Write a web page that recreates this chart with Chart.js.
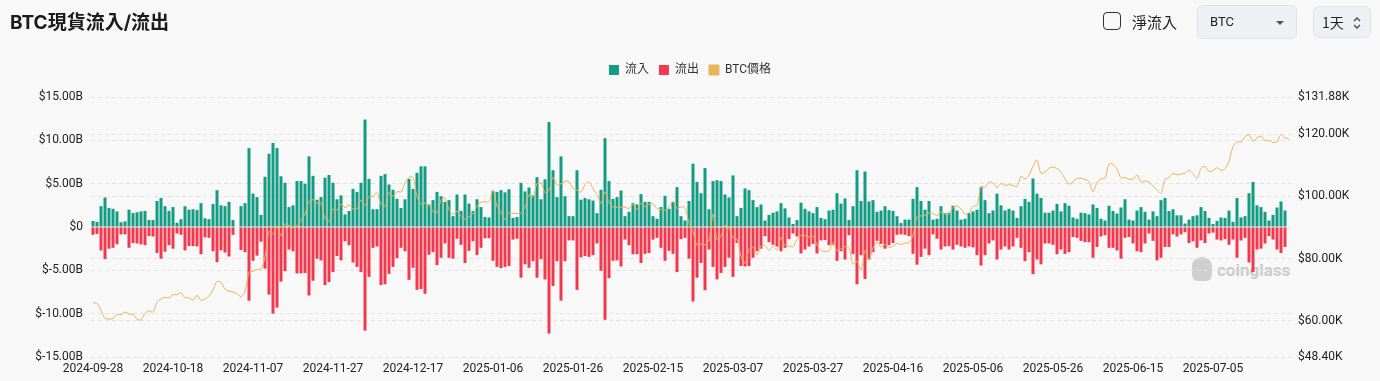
<!DOCTYPE html>
<html><head><meta charset="utf-8">
<script src="https://cdn.jsdelivr.net/npm/chart.js@4.4.0/dist/chart.umd.min.js"></script>
<style>
html,body{margin:0;padding:0;}
body{width:1380px;height:381px;background:#f8f8f8;position:relative;overflow:hidden;font-family:Roboto,"Noto Sans CJK TC",sans-serif;}
#title{position:absolute;left:10px;top:9px;font-size:19px;font-weight:700;color:#1b1b1b;font-family:Inter,"Noto Sans CJK TC",sans-serif;line-height:28px;}
#chk{position:absolute;left:1103px;top:12px;width:16px;height:16px;border:1.5px solid #333;border-radius:4px;}
#net{position:absolute;left:1132px;top:10px;font-size:15px;color:#222;line-height:24px;font-family:"Noto Sans CJK TC",sans-serif;}
#sel{position:absolute;left:1197px;top:5px;width:98px;height:32px;background:#eef0f4;border:1px solid #e0e3e9;border-radius:6px;}
#sel span{position:absolute;left:12px;top:7px;font-size:13px;color:#222;line-height:18px;}
#caret{position:absolute;left:78px;top:15px;width:0;height:0;border-left:4px solid transparent;border-right:4px solid transparent;border-top:4px solid #555;}
#per{position:absolute;left:1313px;top:6px;width:56px;height:30px;background:#eef0f4;border:1px solid #e0e3e9;border-radius:6px;}
#per span{position:absolute;left:8px;top:6px;font-size:14px;color:#222;line-height:18px;font-family:"Noto Sans CJK TC",sans-serif;}
#per svg{position:absolute;left:38px;top:8px;}
#wm{position:absolute;left:1192px;top:255px;width:100px;height:30px;}
#wm .logo{position:absolute;left:0;top:2px;width:20px;height:24px;background:#cfcfcf;border-radius:9px 9px 6px 6px;}
#wm .txt{position:absolute;left:25px;top:3px;font-size:17px;font-weight:700;color:#cbcbcb;font-family:Roboto,sans-serif;line-height:24px;}
#wrap{position:absolute;left:0;top:0;width:1380px;height:381px;}
</style></head>
<body>
<div id="wm"><div class="logo"></div><div class="txt">coinglass</div></div>
<div id="wrap"><canvas id="c"></canvas></div>
<div id="title">BTC現貨流入/流出</div>
<div id="chk"></div>
<div id="net">淨流入</div>
<div id="sel"><span>BTC</span><div id="caret"></div></div>
<div id="per"><span>1天</span><svg width="10" height="16" viewBox="0 0 10 16"><path d="M2 6 L5 3 L8 6" fill="none" stroke="#444" stroke-width="1.3"/><path d="M2 10 L5 13 L8 10" fill="none" stroke="#444" stroke-width="1.3"/></svg></div>
<script>
const startDate = [2024, 8, 28];
const inflow = [
0.7,0.6,2.4,3.4,2.2,2.1,1.8,0.55,0.65,2.0,
1.6,1.7,1.8,1.85,0.8,0.8,3.0,3.35,2.4,1.85,
2.3,0.5,0.9,2.4,2.0,2.05,1.95,2.75,1.0,0.9,
2.65,4.25,2.5,2.4,2.9,0.8,0,2.4,2.75,9.1,
3.85,3.45,1.4,5.8,8.45,9.7,9.1,5.85,5.1,2.3,
2.5,5.3,5.3,5.0,8.15,5.9,3.15,3.45,5.7,6.0,
5.1,3.2,3.65,1.45,1.85,4.4,4.05,5.1,12.4,5.55,
2.05,2.05,5.9,6.1,4.9,4.3,3.25,2.2,3.2,5.55,
4.4,6.25,7.0,7.0,2.6,3.1,4.05,3.55,2.9,3.1,
1.25,3.75,1.85,3.75,2.7,1.85,3.2,2.3,1.15,1.1,
4.15,4.05,4.25,4.0,4.35,1.05,1.15,5.1,4.1,4.55,
3.65,5.75,3.2,5.5,12.1,6.55,3.45,8.15,3.55,1.25,
1.25,6.55,3.15,3.35,3.2,3.05,1.6,4.3,10.25,5.3,
3.25,3.45,4.2,1.25,1.75,2.75,2.6,3.8,2.9,2.9,
1.25,0.95,2.3,3.6,2.1,2.9,4.6,1.25,0.75,3.0,
7.3,5.2,3.9,6.8,2.05,5.3,5.4,5.3,3.75,3.4,
5.95,1.25,2.2,4.45,4.25,3.1,2.3,2.6,0.75,1.4,
1.65,1.8,2.75,2.15,1.1,0.35,0.8,2.8,2.1,1.8,
1.6,2.3,1.05,0.9,1.9,2.0,3.9,2.7,3.3,0.8,
2.4,6.55,3.0,6.4,2.95,3.1,1.75,1.9,2.4,1.95,
1.85,1.25,0.45,0.85,0.85,3.25,4.6,3.0,2.0,3.0,
0.85,0.95,2.4,1.6,1.65,2.45,1.9,0.85,0.95,1.6,
1.8,2.0,4.6,3.1,1.6,1.9,3.85,2.5,1.9,2.1,
1.9,1.05,2.4,3.25,2.9,5.6,3.85,3.35,1.65,1.65,
1.9,2.65,1.8,2.75,2.45,1.1,0.95,1.65,1.6,1.45,
2.6,2.2,0.95,0.75,2.45,1.85,1.55,2.25,3.2,0.85,
0.75,1.9,2.3,1.75,0.85,1.8,1.25,3.1,3.35,1.85,
2.05,1.35,1.35,0.4,0.85,1.25,1.35,2.3,1.85,1.05,
0.35,0.7,1.1,1.05,1.9,0.6,3.35,1.1,1.25,3.9,
5.2,2.5,2.3,1.75,0.75,1.4,2.25,2.95,1.9,0
];
const outflow = [
-0.9,-0.8,-2.7,-3.7,-2.5,-2.4,-2.0,-0.85,-0.85,-2.4,
-1.85,-1.9,-2.0,-2.1,-1.05,-1.1,-3.0,-3.65,-2.85,-2.1,
-2.5,-0.75,-0.9,-2.7,-2.2,-2.2,-2.25,-3.15,-1.2,-1.25,
-2.8,-4.05,-2.7,-2.95,-3.4,-0.9,0,-2.65,-2.9,-8.5,
-3.9,-3.3,-1.7,-4.8,-7.8,-10.0,-9.3,-6.3,-5.1,-2.6,
-2.8,-5.35,-5.35,-5.3,-7.9,-6.2,-3.65,-3.85,-6.7,-6.35,
-5.2,-3.35,-3.85,-1.65,-2.1,-4.1,-4.6,-5.2,-11.95,-5.75,
-2.4,-2.25,-6.7,-6.6,-5.4,-4.6,-3.6,-2.4,-2.8,-6.1,
-4.7,-7.25,-7.15,-7.7,-3.2,-2.9,-4.4,-3.55,-1.9,-3.55,
-3.65,-1.35,-2.05,-4.15,-2.75,-1.65,-3.25,-2.4,-1.3,-1.3,
-3.9,-4.6,-4.75,-4.6,-4.5,-1.45,-1.35,-5.85,-4.3,-4.7,
-3.95,-5.85,-3.7,-6.05,-12.3,-6.8,-3.95,-8.5,-3.95,-1.55,
-1.55,-7.25,-3.5,-3.35,-3.45,-3.25,-1.9,-5.05,-10.7,-5.9,
-3.9,-3.85,-4.55,-1.45,-2.1,-3.15,-3.15,-4.15,-3.1,-3.0,
-1.45,-1.25,-2.4,-3.9,-2.75,-3.1,-5.2,-1.4,-1.25,-3.65,
-8.6,-5.85,-4.15,-7.3,-2.6,-4.6,-6.05,-5.3,-4.6,-3.55,
-5.75,-1.85,-4.5,-4.55,-4.5,-3.55,-2.8,-2.5,-1.05,-1.75,
-2.05,-2.25,-2.8,-2.4,-1.4,-0.75,-1.1,-3.05,-2.6,-2.25,
-1.95,-3.05,-1.55,-1.5,-2.1,-2.05,-3.9,-2.8,-3.75,-0.95,
-3.1,-6.6,-3.25,-6.0,-3.75,-2.9,-1.6,-1.95,-2.5,-2.1,
-1.85,-0.9,-0.85,-0.9,-1.05,-3.1,-4.35,-3.45,-2.5,-3.25,
-0.85,-1.35,-2.6,-2.25,-2.2,-2.6,-2.05,-2.25,-2.4,-2.25,
-2.35,-3.25,-4.45,-3.25,-1.9,-1.55,-3.75,-2.6,-2.25,-2.6,
-2.25,-1.25,-2.4,-3.95,-2.9,-5.45,-3.75,-4.3,-1.9,-1.9,
-2.05,-3.15,-2.6,-3.1,-2.9,-1.15,-1.25,-1.6,-1.75,-1.75,
-3.55,-2.3,-1.1,-0.95,-2.4,-2.4,-2.7,-3.65,-1.25,-1.15,
-1.9,-2.8,-2.9,-1.9,-0.75,-1.6,-3.85,-3.55,-2.3,-2.3,
-0.85,-1.1,-0.85,-0.6,-1.85,-1.65,-2.4,-1.55,-1.85,-0.75,
-0.65,-1.45,-1.55,-1.4,-2.05,-1.45,-3.55,-1.55,-1.25,-4.1,
-5.2,-2.6,-2.5,-1.9,-1.05,-1.45,-2.6,-3.0,-2.3,0
];
const btcPrice = [
65.8,65.6,63.3,
60.8,60.6,60.7,62.1,62.0,62.8,62.2,62.1,60.6,60.3,62.4,63.2,62.8,66.0,67.0,67.6,67.4,68.4,68.4,69.0,67.4,67.4,66.7,68.2,66.6,67.0,67.9,69.9,72.7,72.3,70.2,
69.5,69.3,68.7,67.8,69.4,75.6,75.9,76.5,76.7,80.5,88.7,87.9,90.5,87.3,91.1,90.6,89.9,90.5,92.3,94.3,98.3,98.9,97.8,98.0,93.0,91.9,95.9,95.6,97.5,96.4,
97.2,95.9,96.0,98.8,97.0,99.9,99.9,101.2,97.4,96.7,101.2,100.0,101.5,101.4,104.3,106.1,106.1,100.0,97.5,97.8,97.2,95.1,94.7,98.7,99.4,95.8,94.2,95.2,93.6,92.6,93.4,
94.4,96.9,98.1,98.2,98.3,102.1,96.9,95.0,92.5,94.7,94.5,94.5,94.5,96.5,100.5,99.8,104.1,104.4,101.1,102.0,106.1,103.7,104.0,104.8,104.7,102.6,102.0,101.3,103.7,104.7,102.4,
100.6,97.7,101.4,97.9,96.6,96.5,96.5,96.5,96.1,97.4,95.7,97.8,96.6,97.5,97.6,96.1,95.8,95.5,96.6,98.3,96.1,96.6,96.3,91.4,88.7,84.4,84.7,84.4,
86.0,94.3,86.1,87.2,90.6,89.9,86.7,86.2,80.7,78.5,82.9,83.7,81.1,84.0,84.3,82.6,84.0,82.7,86.8,84.2,84.0,83.8,86.1,87.5,87.4,86.9,87.2,84.4,82.6,82.3,82.5,
85.2,82.5,83.1,83.8,83.5,78.2,79.2,76.3,82.6,79.6,83.4,85.3,83.7,84.5,83.6,84.0,84.9,84.5,85.0,85.1,87.5,93.4,93.7,93.9,94.7,94.6,93.7,95.0,94.3,94.2,
96.5,96.9,95.9,94.3,94.7,96.8,97.0,103.2,102.9,104.6,104.2,102.8,104.1,103.5,103.7,103.5,103.1,106.4,105.6,106.8,109.6,111.7,107.3,107.8,109.0,109.4,108.9,107.8,105.6,103.9,104.6,
105.7,105.8,105.4,104.7,101.5,104.3,105.6,105.8,110.3,110.3,108.7,105.9,106.1,105.4,105.6,106.8,104.6,104.9,104.6,103.3,102.1,100.9,105.4,106.0,107.3,106.9,107.1,107.4,108.4,107.2,
105.7,108.9,109.6,108.0,108.2,109.2,108.3,108.9,111.3,115.9,117.5,117.4,119.1,119.8,117.7,118.8,119.3,117.9,117.9,117.3,117.4,119.9,118.8,118.4
];
const leftTicks = [-15, -10, -5, 0, 5, 10, 15];
const rightTicks = [48.4, 60, 80, 100, 120, 131.88];
const seriesNames = ['流入', '流出', 'BTC價格'];

const labels = [];
const t0 = Date.UTC(startDate[0], startDate[1], startDate[2]);
for (let i = 0; i < inflow.length; i++) {
  labels.push(new Date(t0 + i * 86400000).toISOString().slice(0, 10));
}

const GREEN = '#129c83', RED = '#f1394e', ORANGE = '#eab45e';
const FONT = 'Roboto, "Noto Sans CJK TC", sans-serif';
const GRID = '#e3e3e3';

const legendSpace = {
  id: 'legendSpace',
  afterInit(chart) {
    const lg = chart.legend;
    if (!lg) return;
    const fit = lg.fit;
    lg.fit = function () { fit.call(this); this.height += 11; };
  }
};

new Chart(document.getElementById('c'), {
  type: 'bar',
  data: {
    labels: labels,
    datasets: [
      { label: seriesNames[0], data: inflow, backgroundColor: GREEN, borderWidth: 0, yAxisID: 'y', order: 2, barPercentage: 0.75, categoryPercentage: 1 },
      { label: seriesNames[1], data: outflow, backgroundColor: RED, borderWidth: 0, yAxisID: 'y', order: 2, barPercentage: 0.75, categoryPercentage: 1 },
      { type: 'line', label: seriesNames[2], data: btcPrice, yAxisID: 'y1', borderColor: ORANGE, backgroundColor: ORANGE, borderWidth: 1, pointRadius: 0, tension: 0.3, order: 1 }
    ]
  },
  options: {
    responsive: true,
    maintainAspectRatio: false,
    animation: false,
    layout: { padding: { top: 54, left: 0, right: 0, bottom: 0 } },
    plugins: {
      legend: {
        display: true, position: 'top', align: 'center',
        labels: { boxWidth: 10, boxHeight: 10, padding: 10, color: '#333', font: { size: 12, family: FONT },
          sort: (a, b) => a.datasetIndex - b.datasetIndex }
      },
      tooltip: { enabled: false }
    },
    scales: {
      x: {
        stacked: true,
        grid: { display: false, drawTicks: false },
        border: { display: false },
        ticks: {
          autoSkip: false, maxRotation: 0, minRotation: 0, padding: 5, color: '#222',
          font: { size: 12, family: FONT },
          callback: (v, i) => (i % 20 === 0 ? labels[i] : null)
        },
        afterFit: s => { s.height = 24; }
      },
      y: {
        stacked: true, position: 'left', min: -15, max: 15,
        afterBuildTicks: s => { s.ticks = leftTicks.map(v => ({ value: v })); },
        ticks: { padding: 8, color: '#222', font: { size: 12, family: FONT },
          callback: v => (v === 0 ? '$0' : '$' + Number(v).toFixed(2) + 'B') },
        grid: { color: GRID, drawTicks: false },
        border: { display: false, dash: [4, 3] },
        afterFit: s => { s.width = 91; }
      },
      y1: {
        position: 'right', min: 48.4, max: 131.88,
        afterBuildTicks: s => { s.ticks = rightTicks.map(v => ({ value: v })); },
        ticks: { padding: 7, color: '#222', font: { size: 12, family: FONT },
          callback: v => '$' + Number(v).toFixed(2) + 'K' },
        grid: { color: GRID, drawTicks: false },
        border: { display: false, dash: [4, 3] },
        afterFit: s => { s.width = 89; }
      }
    }
  },
  plugins: [legendSpace]
});
</script>
</body></html>
